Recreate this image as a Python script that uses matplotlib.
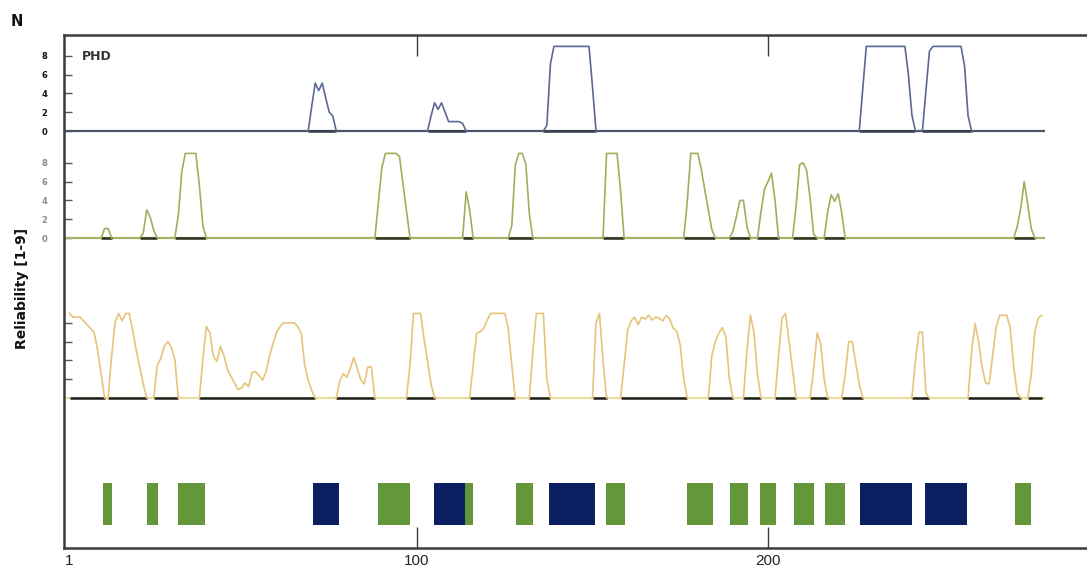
import numpy as np
import matplotlib
matplotlib.use("Agg")
import matplotlib.pyplot as plt

# ---------------- data ----------------
SEQ_LEN = 279

# PHD track: (first residue, values per residue)
phd_segments = [
    (69, [0, 2.6, 5.1, 4.3, 5.1, 3.5, 2.0, 1.6, 0]),
    (103, [0, 1.6, 3.0, 2.3, 3.0, 2.0, 1.0, 1.0, 1.0, 1.0, 0.8, 0]),
    (136, [0, 0.6, 7.1, 9, 9, 9, 9, 9, 9, 9, 9, 9, 9, 9, 4.7, 0]),
    (226, [0, 4.5, 9, 9, 9, 9, 9, 9, 9, 9, 9, 9, 9, 9, 6.0, 1.7, 0]),
    (244, [0, 4.3, 8.5, 9, 9, 9, 9, 9, 9, 9, 9, 9, 6.9, 1.6, 0]),
]

# second (green) reliability track
rel_segments = [
    (10, [0, 1.0, 1.0, 0]),
    (21, [0, 0.5, 3.0, 2.2, 0.8, 0]),
    (31, [0, 2.4, 7.1, 9, 9, 9, 9, 5.6, 1.3, 0]),
    (88, [0, 3.8, 7.5, 9, 9, 9, 9, 8.7, 5.8, 2.9, 0]),
    (113, [0, 4.9, 3.0, 0]),
    (126, [0, 1.3, 7.7, 9, 9, 7.9, 2.6, 0]),
    (153, [0, 9, 9, 9, 9, 5.0, 0]),
    (176, [0, 3.9, 9, 9, 9, 7.3, 5.1, 3.0, 0.9, 0]),
    (189, [0, 0.7, 2.3, 4.0, 4.0, 1.2, 0]),
    (197, [0, 2.8, 5.2, 6.0, 6.9, 4.0, 0]),
    (207, [0, 3.4, 7.8, 8.0, 7.2, 4.2, 0.4, 0]),
    (216, [0, 2.8, 4.6, 3.9, 4.7, 2.7, 0]),
    (270, [0, 1.2, 3.2, 6.0, 3.6, 1.0, 0]),
]

# third (yellow) reliability track
yel_segments = [
    (1, [9.0, 8.6, 8.6, 8.6, 8.2, 7.8, 7.4, 7.0, 5.1, 2.6, 0]),
    (12, [0, 4.5, 8.1, 9.0, 8.2, 9.0, 9.0, 7.2, 5.1, 3.3, 1.5, 0]),
    (25, [0, 3.5, 4.2, 5.5, 6.0, 5.4, 4.1, 0]),
    (38, [0, 4.2, 7.6, 6.9, 4.4, 3.9, 5.5, 4.5, 3.0, 2.3, 1.6, 0.9, 1.05,
          1.6, 1.2, 2.7, 2.8, 2.4, 1.9, 2.8, 4.5, 5.8, 7.0, 7.6, 8.0, 8.0,
          8.0, 8.0, 7.6, 6.9, 3.5, 1.9, 0.8, 0]),
    (77, [0, 1.8, 2.6, 2.2, 3.15, 4.3, 3.1, 1.9, 1.5, 3.3, 3.3, 0]),
    (97, [0, 3.5, 9, 9, 9, 6.3, 3.9, 1.5, 0]),
    (115, [0, 3.5, 6.9, 7.05, 7.4, 8.3, 9, 9, 9, 9, 9, 7.4, 3.5, 0]),
    (132, [0, 5, 9, 9, 9, 2, 0]),
    (150, [0, 8, 9, 4, 0]),
    (158, [0, 3.5, 7.2, 8.2, 8.6, 7.8, 8.6, 8.4, 8.8, 8.3, 8.6, 8.5, 8.2,
           8.8, 8.4, 7.4, 7.1, 5.6, 2.0, 0]),
    (183, [0, 4.5, 6.0, 6.9, 7.5, 6.5, 2.0, 0]),
    (193, [0, 5, 8.8, 7, 2.5, 0]),
    (202, [0, 4.5, 8.5, 9, 6, 3, 0]),
    (212, [0, 3, 6.9, 5.8, 2, 0]),
    (221, [0, 2.5, 6.0, 6.0, 3.7, 1.5, 0]),
    (241, [0, 4, 7, 7, 0.5, 0]),
    (257, [0, 5, 7.9, 6, 3.3, 1.6, 1.5, 4.5, 7.5, 8.8, 8.8, 8.8, 7.5, 3.3, 0.5, 0]),
    (274, [0, 2.5, 7, 8.5, 8.8]),
]

# secondary structure blocks (E = strand, green; H = helix, blue)
bar_start = [10.6, 23, 32, 70.5, 89, 104.8, 113.7, 128.1, 137.5, 153.9,
             176.8, 189.2, 197.7, 207.3, 216.3, 226.2, 244.7, 270.4]
bar_end = [13.2, 26.2, 39.5, 77.8, 97.9, 113.7, 115.9, 133, 150.8, 159.2,
           184.3, 194.2, 202.4, 213.2, 222, 241, 256.8, 274.9]
bar_kind = ['E', 'E', 'E', 'H', 'E', 'H', 'E', 'E', 'H', 'E',
            'E', 'E', 'E', 'E', 'E', 'H', 'H', 'E']

x_ticks = [1, 100, 200]
x_ticklabels = ['1', '100', '200']
track_ticks = [0, 2, 4, 6, 8]

# ---------------- layout / style ----------------
W, H = 1087, 570
PX_PER_UNIT = 9.4
AX_L, AX_R, AX_T, AX_B = 64, 1087, 35, 548
OFF_PHD = (AX_B - 131) / PX_PER_UNIT
OFF_REL = (AX_B - 238) / PX_PER_UNIT
OFF_YEL = (AX_B - 398) / PX_PER_UNIT
BAR_Y0 = (AX_B - 525) / PX_PER_UNIT
BAR_H = 42 / PX_PER_UNIT

C_FRAME = '#3c3c3c'
C_PHD = '#5a6896'
C_PHD_BASE = '#4c5468'
C_REL = '#a3ad5a'
C_REL_BASE = '#a9b066'
C_YEL = '#e6c47a'
C_YEL_BASE = '#e9dc9e'
C_E = '#64963a'
C_H = '#0c1f60'

fig = plt.figure(figsize=(W / 100, H / 100), dpi=100)
fig.patch.set_facecolor('white')
ax = fig.add_axes([AX_L / W, 1 - AX_B / H, (AX_R - AX_L) / W, (AX_B - AX_T) / H])

xlim_left = 100 - (417 - AX_L) / 3.51
xlim_right = 100 + (AX_R - 417) / 3.51
ax.set_xlim(xlim_left, xlim_right)
ax.set_ylim(0, (AX_B - AX_T) / PX_PER_UNIT)


def draw_track(segments, offset, color, base_color, under_color):
    ax.plot([xlim_left, SEQ_LEN], [offset, offset], color=base_color, lw=1.6,
            solid_capstyle='butt', zorder=2)
    for start, vals in segments:
        xs = np.arange(start, start + len(vals))
        ys = np.asarray(vals, dtype=float) + offset
        if under_color is not None:
            ax.plot([xs[0], xs[-1]], [offset, offset], color=under_color, lw=1.8,
                    solid_capstyle='butt', zorder=3)
        ax.plot(xs, ys, color=color, lw=1.2, zorder=4)


draw_track(phd_segments, OFF_PHD, C_PHD, C_PHD_BASE, '#3a3f4c')
draw_track(rel_segments, OFF_REL, C_REL, C_REL_BASE, '#2e3020')
draw_track(yel_segments, OFF_YEL, C_YEL, C_YEL_BASE, '#1e1e1e')

for s, e, k in zip(bar_start, bar_end, bar_kind):
    ax.bar(s, BAR_H, width=e - s, bottom=BAR_Y0, align='edge',
           color=C_E if k == 'E' else C_H, edgecolor='none', zorder=3)

# frame
for side in ['left', 'top', 'bottom']:
    ax.spines[side].set_color(C_FRAME)
    ax.spines[side].set_linewidth(1.8)
ax.spines['right'].set_visible(False)

# x ticks
ax.set_xticks(x_ticks)
ax.set_xticklabels(x_ticklabels, family='Liberation Sans', fontsize=11,
                   color='#222222')
ax.tick_params(axis='x', which='major', direction='in', length=15, width=1.0,
               color=C_FRAME, top=True, pad=4)
xt = ax.xaxis.get_major_ticks()[0]
xt.tick1line.set_visible(False)
xt.tick2line.set_visible(False)

# y ticks (one set per track)
ypos, ylab, ycol = [], [], []
for v in track_ticks:
    ypos.append(OFF_PHD + v); ylab.append(str(v)); ycol.append('#111111')
for v in track_ticks:
    ypos.append(OFF_REL + v); ylab.append(str(v)); ycol.append('#8a8a8a')
for v in track_ticks[1:]:
    ypos.append(OFF_YEL + v); ylab.append(''); ycol.append('#111111')
ax.set_yticks(ypos)
ax.set_yticklabels(ylab, fontsize=6, fontweight='bold')
for lbl, c in zip(ax.get_yticklabels(), ycol):
    lbl.set_color(c)
ax.tick_params(axis='y', direction='in', length=6, width=1.0, color='#555555',
               pad=12)

# texts
ax.text(18 / (AX_R - AX_L), (AX_B - 56) / (AX_B - AX_T), 'PHD', transform=ax.transAxes,
        fontsize=9, fontweight='bold', color='#333333', va='center', ha='left')
fig.text(22 / W, 1 - 288 / H, 'Reliability [1-9]', rotation=90, fontsize=10,
         fontweight='bold', ha='center', va='center', color='#111111')
fig.text(17 / W, 1 - 21 / H, 'N', fontsize=10.5, fontweight='bold',
         ha='center', va='center', color='#111111')

fig.savefig('out.png', dpi=100, facecolor='white')
